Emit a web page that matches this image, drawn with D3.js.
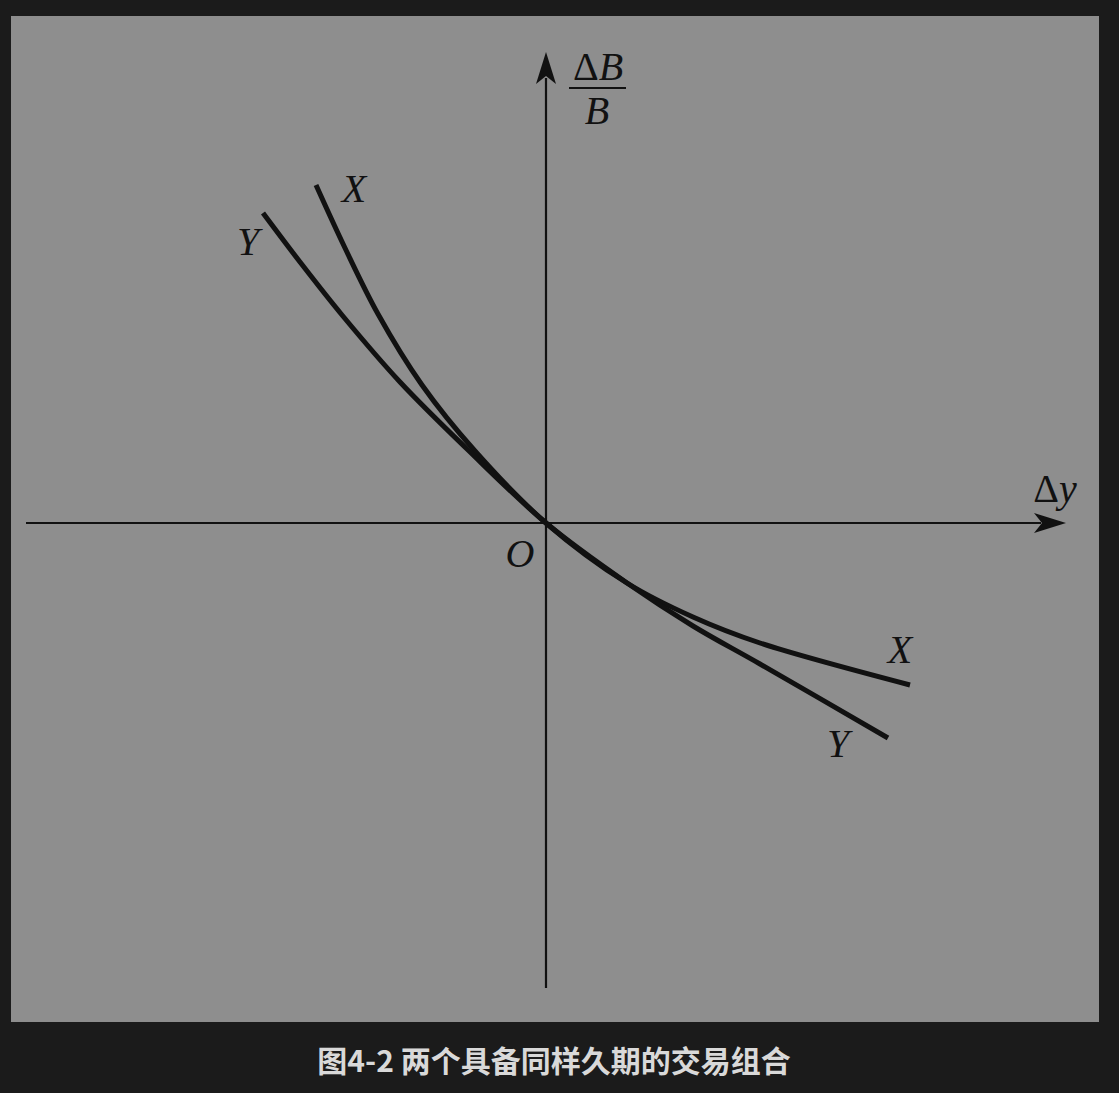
<!DOCTYPE html>
<html>
<head>
<meta charset="utf-8">
<script src="https://cdn.jsdelivr.net/npm/d3@7"></script>
<style>
  html, body { margin: 0; padding: 0; background: #1b1b1b; }
  svg { display: block; }
</style>
</head>
<body>
<svg id="chart" width="1119" height="1093"></svg>
<script>
// Data (Δy, ΔB/B), in arbitrary units
const seriesXdy = [-2.30, -2.01, -1.68, -1.24, -0.71, 0, 0.81, 1.47, 2.14, 3.64];
const seriesXdb = [3.38, 2.75, 2.09, 1.38, 0.72, 0, -0.60, -0.94, -1.20, -1.62];
const seriesYdy = [-2.83, -2.46, -2.04, -1.46, -0.79, 0, 0.81, 1.47, 2.14, 3.42];
const seriesYdb = [3.10, 2.61, 2.08, 1.41, 0.74, 0, -0.60, -1.03, -1.41, -2.15];
const caption = "图4-2 两个具备同样久期的交易组合";

const svg = d3.select("#chart");
svg.append("rect").attr("x", 11).attr("y", 16).attr("width", 1088).attr("height", 1006).attr("fill", "#8e8e8e");

const x = d3.scaleLinear().domain([-5.2, 5.2]).range([26, 1066]);
const y = d3.scaleLinear().domain([-4.65, 4.71]).range([988, 52]);

const ink = "#111";
// axes
svg.append("line").attr("x1", x(-5.2)).attr("x2", x(4.95)).attr("y1", y(0)).attr("y2", y(0))
  .attr("stroke", ink).attr("stroke-width", 2.2);
svg.append("line").attr("x1", x(0)).attr("x2", x(0)).attr("y1", y(-4.65)).attr("y2", y(4.45))
  .attr("stroke", ink).attr("stroke-width", 2.2);

// arrowheads
const xt = x(5.2), yt = y(0);
svg.append("path").attr("d", `M${xt},${yt} L${xt-32},${yt-10} L${xt-24},${yt} L${xt-32},${yt+10} Z`).attr("fill", ink);
const ax = x(0), ay = y(4.71);
svg.append("path").attr("d", `M${ax},${ay} L${ax-10},${ay+32} L${ax},${ay+24} L${ax+10},${ay+32} Z`).attr("fill", ink);

// curves
const line = d3.line().x(d => x(d[0])).y(d => y(d[1])).curve(d3.curveCatmullRom.alpha(0.5));
const dX = seriesXdy.map((v, i) => [v, seriesXdb[i]]);
const dY = seriesYdy.map((v, i) => [v, seriesYdb[i]]);
[dX, dY].forEach(d => {
  svg.append("path").attr("d", line(d)).attr("fill", "none").attr("stroke", ink)
    .attr("stroke-width", 5).attr("stroke-linecap", "butt");
});

// labels
const serif = "'Liberation Serif', 'DejaVu Serif', serif";
function lab(t, px, py, italic = true, anchor = "middle") {
  return svg.append("text").attr("x", px).attr("y", py).attr("font-family", serif)
    .attr("font-size", 40).attr("font-style", italic ? "italic" : "normal")
    .attr("fill", ink).attr("text-anchor", anchor).text(t);
}
lab("X", 354, 202);
lab("Y", 248, 255);
lab("X", 900, 663);
lab("Y", 838, 757);
lab("O", 520, 567);

// Δy
const dy = svg.append("text").attr("x", 1055).attr("y", 502).attr("font-family", serif)
  .attr("font-size", 40).attr("fill", ink).attr("text-anchor", "middle");
dy.append("tspan").text("Δ");
dy.append("tspan").attr("font-style", "italic").text("y");

// ΔB / B
const nb = svg.append("text").attr("x", 598).attr("y", 80).attr("font-family", serif)
  .attr("font-size", 40).attr("fill", ink).attr("text-anchor", "middle");
nb.append("tspan").text("Δ");
nb.append("tspan").attr("font-style", "italic").text("B");
svg.append("line").attr("x1", 569).attr("x2", 626).attr("y1", 88).attr("y2", 88).attr("stroke", ink).attr("stroke-width", 2);
lab("B", 597, 124);

// caption
svg.append("text").attr("x", 554).attr("y", 1072).attr("text-anchor", "middle")
  .attr("font-family", "'Noto Sans CJK SC', sans-serif").attr("font-weight", "bold")
  .attr("font-size", 30).attr("fill", "#d9d9d9").text(caption);
</script>
</body>
</html>
